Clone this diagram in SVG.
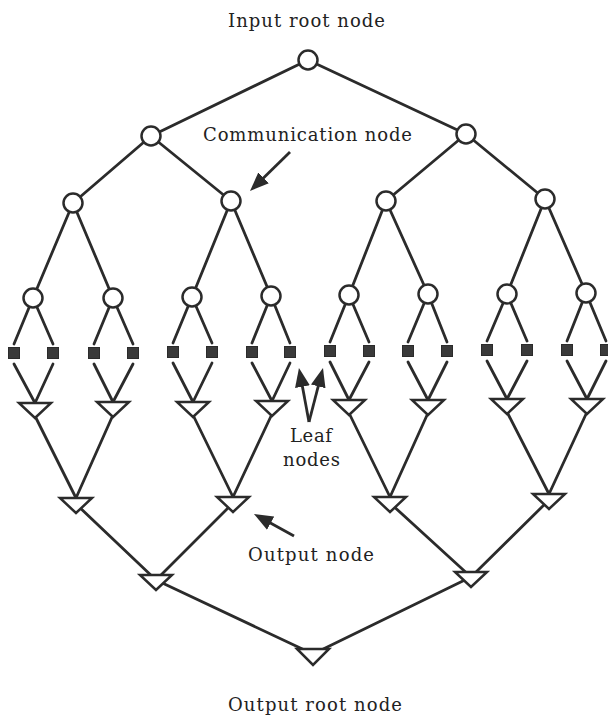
<svg xmlns="http://www.w3.org/2000/svg" width="608" height="724" viewBox="0 0 608 724">
<style>
  .ln { stroke:#2b2b2b; stroke-width:2.8; fill:none; stroke-linecap:round; }
  .comm { fill:#fff; stroke:#2b2b2b; stroke-width:2.5; }
  .leaf { fill:#3a3a3a; stroke:#2b2b2b; stroke-width:1; }
  .out { fill:#fff; stroke:#2b2b2b; stroke-width:2.5; stroke-linejoin:miter; }
  .lbl { font-family:"DejaVu Serif","Liberation Serif",serif; font-size:18px; fill:#222; }
  .ann { stroke:#2b2b2b; stroke-width:2.8; fill:none; }
</style>
<defs>
  <marker id="ah" markerUnits="userSpaceOnUse" markerWidth="20" markerHeight="16" refX="9.5" refY="8" orient="auto" viewBox="0 0 20 16">
    <path d="M0,0.5 L19,8 L0,15.5 z" fill="#2b2b2b"/>
  </marker>
</defs>
<rect width="608" height="724" fill="#fff"/>

<g id="connectors">
  <line class="ln" x1="308" y1="60" x2="151" y2="136"/>
  <line class="ln" x1="308" y1="60" x2="466" y2="134"/>
  <line class="ln" x1="151" y1="136" x2="73" y2="203"/>
  <line class="ln" x1="151" y1="136" x2="231" y2="201"/>
  <line class="ln" x1="466" y1="134" x2="386" y2="201"/>
  <line class="ln" x1="466" y1="134" x2="545" y2="199"/>
  <line class="ln" x1="73" y1="203" x2="33" y2="298"/>
  <line class="ln" x1="73" y1="203" x2="113" y2="298"/>
  <line class="ln" x1="231" y1="201" x2="192" y2="297"/>
  <line class="ln" x1="231" y1="201" x2="271" y2="296"/>
  <line class="ln" x1="386" y1="201" x2="349" y2="295"/>
  <line class="ln" x1="386" y1="201" x2="428" y2="294"/>
  <line class="ln" x1="545" y1="199" x2="507" y2="294"/>
  <line class="ln" x1="545" y1="199" x2="586" y2="293"/>
  <line class="ln" x1="33" y1="298" x2="14" y2="344"/>
  <line class="ln" x1="33" y1="298" x2="53" y2="344"/>
  <line class="ln" x1="113" y1="298" x2="94" y2="344"/>
  <line class="ln" x1="113" y1="298" x2="133" y2="344"/>
  <line class="ln" x1="192" y1="297" x2="173" y2="343"/>
  <line class="ln" x1="192" y1="297" x2="212" y2="343"/>
  <line class="ln" x1="271" y1="296" x2="252" y2="343"/>
  <line class="ln" x1="271" y1="296" x2="290" y2="343"/>
  <line class="ln" x1="349" y1="295" x2="330" y2="342"/>
  <line class="ln" x1="349" y1="295" x2="369" y2="342"/>
  <line class="ln" x1="428" y1="294" x2="408" y2="342"/>
  <line class="ln" x1="428" y1="294" x2="447" y2="342"/>
  <line class="ln" x1="507" y1="294" x2="487" y2="341"/>
  <line class="ln" x1="507" y1="294" x2="527" y2="341"/>
  <line class="ln" x1="586" y1="293" x2="567" y2="341"/>
  <line class="ln" x1="586" y1="293" x2="606" y2="341"/>
  <line class="ln" x1="14" y1="364" x2="35" y2="403"/>
  <line class="ln" x1="53" y1="364" x2="35" y2="403"/>
  <line class="ln" x1="94" y1="364" x2="113" y2="402"/>
  <line class="ln" x1="133" y1="364" x2="113" y2="402"/>
  <line class="ln" x1="173" y1="363" x2="193" y2="402"/>
  <line class="ln" x1="212" y1="363" x2="193" y2="402"/>
  <line class="ln" x1="252" y1="363" x2="272" y2="401"/>
  <line class="ln" x1="290" y1="363" x2="272" y2="401"/>
  <line class="ln" x1="330" y1="362" x2="349" y2="400"/>
  <line class="ln" x1="369" y1="362" x2="349" y2="400"/>
  <line class="ln" x1="408" y1="362" x2="428" y2="400"/>
  <line class="ln" x1="447" y1="362" x2="428" y2="400"/>
  <line class="ln" x1="487" y1="361" x2="507" y2="399"/>
  <line class="ln" x1="527" y1="361" x2="507" y2="399"/>
  <line class="ln" x1="567" y1="361" x2="587" y2="399"/>
  <line class="ln" x1="606" y1="361" x2="587" y2="399"/>
  <line class="ln" x1="35" y1="416" x2="76" y2="498"/>
  <line class="ln" x1="113" y1="415" x2="76" y2="498"/>
  <line class="ln" x1="193" y1="415" x2="233" y2="497"/>
  <line class="ln" x1="272" y1="414" x2="233" y2="497"/>
  <line class="ln" x1="349" y1="413" x2="390" y2="497"/>
  <line class="ln" x1="428" y1="413" x2="390" y2="497"/>
  <line class="ln" x1="507" y1="412" x2="549" y2="494"/>
  <line class="ln" x1="587" y1="412" x2="549" y2="494"/>
  <line class="ln" x1="76" y1="504" x2="156" y2="580"/>
  <line class="ln" x1="233" y1="503" x2="156" y2="580"/>
  <line class="ln" x1="390" y1="503" x2="471" y2="577"/>
  <line class="ln" x1="549" y1="500" x2="471" y2="577"/>
  <line class="ln" x1="156" y1="580" x2="313" y2="654"/>
  <line class="ln" x1="471" y1="577" x2="313" y2="654"/>
</g>

<g id="root-in"><circle class="comm" cx="308" cy="60" r="9.5"/></g>
<g id="c1a"><circle class="comm" cx="151" cy="136" r="9.5"/></g>
<g id="c1b"><circle class="comm" cx="466" cy="134" r="9.5"/></g>
<g id="c2a"><circle class="comm" cx="73" cy="203" r="9.5"/></g>
<g id="c2b"><circle class="comm" cx="231" cy="201" r="9.5"/></g>
<g id="c2c"><circle class="comm" cx="386" cy="201" r="9.5"/></g>
<g id="c2d"><circle class="comm" cx="545" cy="199" r="9.5"/></g>
<g id="c3a"><circle class="comm" cx="33" cy="298" r="9.5"/></g>
<g id="c3b"><circle class="comm" cx="113" cy="298" r="9.5"/></g>
<g id="c3c"><circle class="comm" cx="192" cy="297" r="9.5"/></g>
<g id="c3d"><circle class="comm" cx="271" cy="296" r="9.5"/></g>
<g id="c3e"><circle class="comm" cx="349" cy="295" r="9.5"/></g>
<g id="c3f"><circle class="comm" cx="428" cy="294" r="9.5"/></g>
<g id="c3g"><circle class="comm" cx="507" cy="294" r="9.5"/></g>
<g id="c3h"><circle class="comm" cx="586" cy="293" r="9.5"/></g>

<g id="leaves">
  <rect class="leaf" x="8.5" y="347.5" width="11" height="11"/>
  <rect class="leaf" x="47.5" y="347.5" width="11" height="11"/>
  <rect class="leaf" x="88.5" y="347.5" width="11" height="11"/>
  <rect class="leaf" x="127.5" y="347.5" width="11" height="11"/>
  <rect class="leaf" x="167.5" y="346.5" width="11" height="11"/>
  <rect class="leaf" x="206.5" y="346.5" width="11" height="11"/>
  <rect class="leaf" x="246.5" y="346.5" width="11" height="11"/>
  <rect class="leaf" x="284.5" y="346.5" width="11" height="11"/>
  <rect class="leaf" x="324.5" y="345.5" width="11" height="11"/>
  <rect class="leaf" x="363.5" y="345.5" width="11" height="11"/>
  <rect class="leaf" x="402.5" y="345.5" width="11" height="11"/>
  <rect class="leaf" x="441.5" y="345.5" width="11" height="11"/>
  <rect class="leaf" x="481.5" y="344.5" width="11" height="11"/>
  <rect class="leaf" x="521.5" y="344.5" width="11" height="11"/>
  <rect class="leaf" x="561.5" y="344.5" width="11" height="11"/>
  <rect class="leaf" x="600.5" y="344.5" width="11" height="11"/>
</g>

<g id="o4a"><polygon class="out" points="19,403 51,403 35,418"/></g>
<g id="o4b"><polygon class="out" points="97,402 129,402 113,417"/></g>
<g id="o4c"><polygon class="out" points="177,402 209,402 193,417"/></g>
<g id="o4d"><polygon class="out" points="256,401 288,401 272,416"/></g>
<g id="o4e"><polygon class="out" points="333,400 365,400 349,415"/></g>
<g id="o4f"><polygon class="out" points="412,400 444,400 428,415"/></g>
<g id="o4g"><polygon class="out" points="491,399 523,399 507,414"/></g>
<g id="o4h"><polygon class="out" points="571,399 603,399 587,414"/></g>
<g id="o5a"><polygon class="out" points="60,498 92,498 76,513"/></g>
<g id="o5b"><polygon class="out" points="217,497 249,497 233,512"/></g>
<g id="o5c"><polygon class="out" points="374,497 406,497 390,512"/></g>
<g id="o5d"><polygon class="out" points="533,494 565,494 549,509"/></g>
<g id="o6a"><polygon class="out" points="140,575 172,575 156,590"/></g>
<g id="o6b"><polygon class="out" points="455,572 487,572 471,587"/></g>
<g id="root-out"><polygon class="out" points="297,649 329,649 313,665"/></g>

<g id="annotations">
  <line class="ann" x1="290" y1="152" x2="256.8" y2="184.4" marker-end="url(#ah)"/>
  <line class="ann" x1="309" y1="422" x2="300.7" y2="377.3" marker-end="url(#ah)"/>
  <line class="ann" x1="309" y1="422" x2="320.6" y2="377.2" marker-end="url(#ah)"/>
  <line class="ann" x1="294" y1="536" x2="262.3" y2="518.6" marker-end="url(#ah)"/>
</g>

<g id="labels">
  <text class="lbl" x="228" y="27" textLength="157" lengthAdjust="spacing">Input root node</text>
  <text class="lbl" x="203" y="141" textLength="209" lengthAdjust="spacing">Communication node</text>
  <text class="lbl" x="290" y="442" textLength="42" lengthAdjust="spacing">Leaf</text>
  <text class="lbl" x="283" y="466" textLength="57" lengthAdjust="spacing">nodes</text>
  <text class="lbl" x="248" y="561" textLength="126" lengthAdjust="spacing">Output node</text>
  <text class="lbl" x="228" y="711" textLength="174" lengthAdjust="spacing">Output root node</text>
</g>
</svg>
